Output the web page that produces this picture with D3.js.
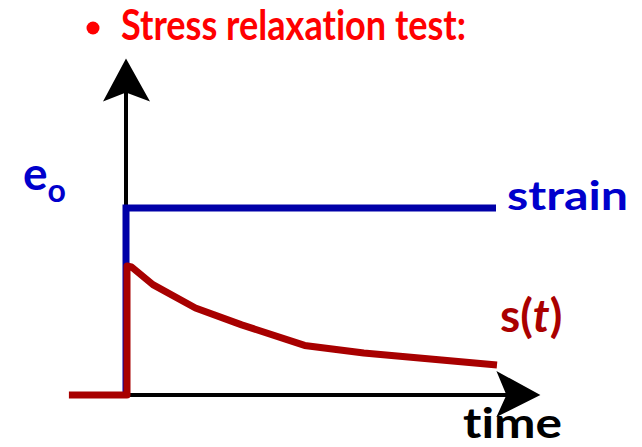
<!DOCTYPE html>
<html>
<head>
<meta charset="utf-8">
<script src="https://cdn.jsdelivr.net/npm/d3@7"></script>
<style>
  body { margin: 0; background: #fff; }
  text { font-family: Lato, "Open Sans", sans-serif; font-weight: bold; font-variant-ligatures: none; }
</style>
</head>
<body>
<div id="chart"></div>
<script>
const width = 642, height = 447;

// Data - strain step and stress relaxation (time in arbitrary units)
const strain_time = [0, 0, 10];
const strain_value = [0, 1, 1];
const stress_time = [-1.57, 0, 0, 0.12, 0.7, 1.85, 3.1, 4.8, 6.4, 10];
const stress_value = [0, 0, 0.69, 0.685, 0.59, 0.465, 0.375, 0.265, 0.225, 0.16];
const axis_max_time = 11.2;
const axis_max_value = 1.8;

const svg = d3.select('#chart')
  .append('svg')
    .attr('width', width)
    .attr('height', height);

// Scales
const x = d3.scaleLinear()
  .domain([0, 10])
  .range([126, 496]);
const y = d3.scaleLinear()
  .domain([0, 1])
  .range([395, 208]);

// Axes (arrows)
svg.append('line')
  .attr('x1', x(0)).attr('y1', y(0))
  .attr('x2', x(axis_max_time) - 20).attr('y2', y(0))
  .attr('stroke', '#000').attr('stroke-width', 4);
svg.append('line')
  .attr('x1', x(0)).attr('y1', y(0))
  .attr('x2', x(0)).attr('y2', y(axis_max_value) + 20)
  .attr('stroke', '#000').attr('stroke-width', 4);

// Arrowheads
const xt = x(axis_max_time), yt = y(0);
svg.append('path')
  .attr('d', `M${xt},${yt} L${xt - 44},${yt - 24} L${xt - 34},${yt} L${xt - 44},${yt + 22} Z`)
  .attr('fill', '#000');
const ax = x(0), ay = y(axis_max_value);
svg.append('path')
  .attr('d', `M${ax},${ay} L${ax + 24},${ay + 43} L${ax},${ay + 34} L${ax - 23},${ay + 43} Z`)
  .attr('fill', '#000');

// Lines
const line = d3.line()
  .x(d => x(d[0]))
  .y(d => y(d[1]));

svg.append('path')
  .datum(d3.zip(strain_time, strain_value))
  .attr('d', line)
  .attr('fill', 'none')
  .attr('stroke', '#0000A8')
  .attr('stroke-width', 7)
  .attr('stroke-linejoin', 'miter');

svg.append('path')
  .datum(d3.zip(stress_time, stress_value))
  .attr('d', line)
  .attr('transform', 'translate(1,0)')
  .attr('fill', 'none')
  .attr('stroke', '#A80000')
  .attr('stroke-width', 7)
  .attr('stroke-linejoin', 'round');

// Title
svg.append('circle')
  .attr('cx', 93).attr('cy', 28).attr('r', 6.5)
  .attr('fill', '#FF0000');
svg.append('text')
  .attr('x', 121).attr('y', 40)
  .attr('font-size', 42)
  .attr('fill', '#FF0000')
  .attr('textLength', 345)
  .attr('lengthAdjust', 'spacingAndGlyphs')
  .text('Stress relaxation test:');

// Labels
const eo = svg.append('text')
  .attr('x', 23).attr('y', 190)
  .attr('fill', '#0000CC')
  .attr('font-size', 46);
eo.append('tspan').text('e');
eo.append('tspan').attr('font-size', 32).attr('dy', 12).text('o');

svg.append('text')
  .attr('x', 507).attr('y', 210)
  .attr('font-size', 40)
  .attr('fill', '#0000CC')
  .attr('textLength', 121)
  .attr('lengthAdjust', 'spacingAndGlyphs')
  .text('strain');

const st = svg.append('text')
  .attr('x', 500).attr('y', 332)
  .attr('font-size', 46)
  .attr('fill', '#AA0000');
st.append('tspan').text('s(');
st.append('tspan').attr('font-style', 'italic').text('t');
st.append('tspan').text(')');

svg.append('text')
  .attr('x', 463).attr('y', 438)
  .attr('font-size', 42)
  .attr('fill', '#000')
  .attr('textLength', 99)
  .attr('lengthAdjust', 'spacingAndGlyphs')
  .text('time');
</script>
</body>
</html>
